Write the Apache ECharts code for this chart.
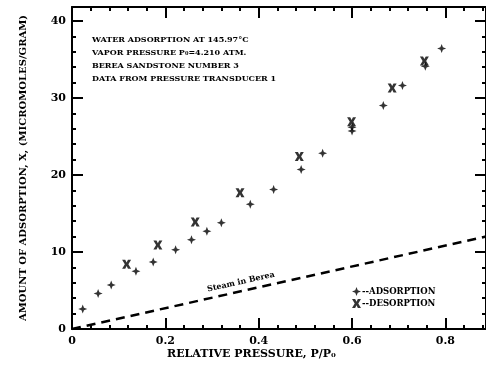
<!DOCTYPE html>
<html>
<head>
<meta charset="utf-8">
<script src="https://cdn.jsdelivr.net/npm/echarts@6/dist/echarts.min.js"></script>
<style>
  html, body { margin: 0; padding: 0; background: #fff; }
  #chart { width: 486px; height: 366px; }
</style>
</head>
<body>
<div id="chart"></div>
<script>
// adsorption points (+): [P/P0, X]
var adsorption = [
    [0.023, 2.6], [0.056, 4.6], [0.084, 5.7], [0.137, 7.5], [0.174, 8.7],
    [0.222, 10.3], [0.256, 11.6], [0.289, 12.7], [0.320, 13.8], [0.382, 16.2],
    [0.432, 18.1], [0.491, 20.7], [0.537, 22.8], [0.600, 26.2], [0.600, 25.7],
    [0.667, 29.0], [0.708, 31.6], [0.757, 34.1], [0.792, 36.4]
];
// desorption points (x)
var desorption = [
    [0.117, 8.4], [0.184, 10.9], [0.264, 13.9], [0.360, 17.7], [0.487, 22.4],
    [0.599, 26.9], [0.686, 31.3], [0.755, 34.8]
];
// steam in berea reference line
var steamLine = [[0, 0], [0.887, 12.0]];

var xTicks = [0, 0.2, 0.4, 0.6, 0.8];
var yTicks = [0, 10, 20, 30, 40];

var noteLines = [
    'WATER ADSORPTION AT 145.97\u00B0C',
    'VAPOR PRESSURE P\u2080=4.210 ATM.',
    'BEREA SANDSTONE NUMBER 3',
    'DATA FROM PRESSURE TRANSDUCER 1'
];

var fontName = 'DejaVu Serif';
var plusPath = 'path://M0,-10 L2.8,-2.8 L10,0 L2.8,2.8 L0,10 L-2.8,2.8 L-10,0 L-2.8,-2.8 Z';
var crossPath = 'path://M-10,-10 L-3,-10 L0,-4 L3,-10 L10,-10 L4,0 L10,10 L3,10 L0,4 L-3,10 L-10,10 L-4,0 Z';

function xLabel(v) {
    var r = Math.round(v * 10) / 10;
    return xTicks.indexOf(r) >= 0 ? String(r) : '';
}

function axisBase(show) {
    return {
        axisLine: { show: true, onZero: false, lineStyle: { color: '#000', width: 2 } },
        splitLine: { show: false },
        axisTick: { show: true, inside: true, length: 11, lineStyle: { color: '#000', width: 2 } },
        minorTick: { show: true, splitNumber: 5, length: 4, lineStyle: { color: '#000', width: 2 } },
        axisLabel: {
            show: show, color: '#000', fontFamily: fontName, fontWeight: 'bold', fontSize: 11
        }
    };
}

function initChart() {
    var myChart = echarts.init(document.getElementById('chart'));

    var xBottom = axisBase(true);
    xBottom.type = 'value';
    xBottom.position = 'bottom';
    xBottom.min = 0;
    xBottom.max = 0.887;
    xBottom.interval = 0.2;
    xBottom.axisLabel.margin = 7;
    xBottom.axisLabel.showMaxLabel = false;
    xBottom.axisLabel.formatter = xLabel;

    var xTop = axisBase(false);
    xTop.type = 'value';
    xTop.position = 'top';
    xTop.min = 0;
    xTop.max = 0.887;
    xTop.interval = 0.2;

    var yLeft = axisBase(true);
    yLeft.type = 'value';
    yLeft.position = 'left';
    yLeft.min = 0;
    yLeft.max = 41.8;
    yLeft.interval = 10;
    yLeft.axisLabel.margin = 6;
    yLeft.axisLabel.showMaxLabel = false;
    yLeft.name = 'AMOUNT OF ADSORPTION, X, (MICROMOLES/GRAM)';
    yLeft.nameLocation = 'middle';
    yLeft.nameGap = 44;
    yLeft.nameTextStyle = { color: '#000', fontFamily: fontName, fontWeight: 'bold', fontSize: 10 };

    var yRight = axisBase(false);
    yRight.type = 'value';
    yRight.position = 'right';
    yRight.min = 0;
    yRight.max = 41.8;
    yRight.interval = 10;

    var option = {
        animation: false,
        grid: { left: 72, right: 0, top: 7, bottom: 37 },
        xAxis: [xBottom, xTop],
        yAxis: [yLeft, yRight],
        legend: {
            left: 347,
            top: 282,
            orient: 'vertical',
            itemGap: 3,
            itemWidth: 9,
            itemHeight: 9,
            formatter: '--{name}',
            textStyle: { color: '#000', fontFamily: fontName, fontWeight: 'bold', fontSize: 8.5, padding: [0, 0, 0, -4] },
            data: [
                { name: 'ADSORPTION', icon: plusPath },
                { name: 'DESORPTION', icon: crossPath }
            ]
        },
        graphic: [
            {
                type: 'group',
                left: 92,
                top: 36,
                children: noteLines.map(function (t, i) {
                    return {
                        type: 'text',
                        top: i * 13,
                        left: 0,
                        style: { text: t, fill: '#000', font: 'bold 8px "' + fontName + '"' }
                    };
                })
            },
            {
                type: 'text',
                left: 167,
                top: 349,
                style: { text: 'RELATIVE PRESSURE, P/P\u2080', fill: '#000', font: 'bold 11px "' + fontName + '"' }
            },
            {
                type: 'text',
                x: 241,
                y: 282,
                rotation: 0.22,
                style: { text: 'Steam in Berea', fill: '#000', font: 'bold 8px "' + fontName + '"', align: 'center', verticalAlign: 'middle' }
            }
        ],
        series: [
            {
                name: 'Steam',
                type: 'line',
                data: steamLine,
                symbol: 'none',
                silent: true,
                lineStyle: { color: '#000', width: 2.5, type: [9, 6] }
            },
            {
                name: 'ADSORPTION',
                type: 'scatter',
                data: adsorption,
                symbol: plusPath,
                symbolSize: 9,
                itemStyle: { color: '#000' }
            },
            {
                name: 'DESORPTION',
                type: 'scatter',
                data: desorption,
                symbol: crossPath,
                symbolSize: 9,
                itemStyle: { color: '#000' }
            }
        ]
    };

    myChart.setOption(option);
}

initChart();
</script>
</body>
</html>
